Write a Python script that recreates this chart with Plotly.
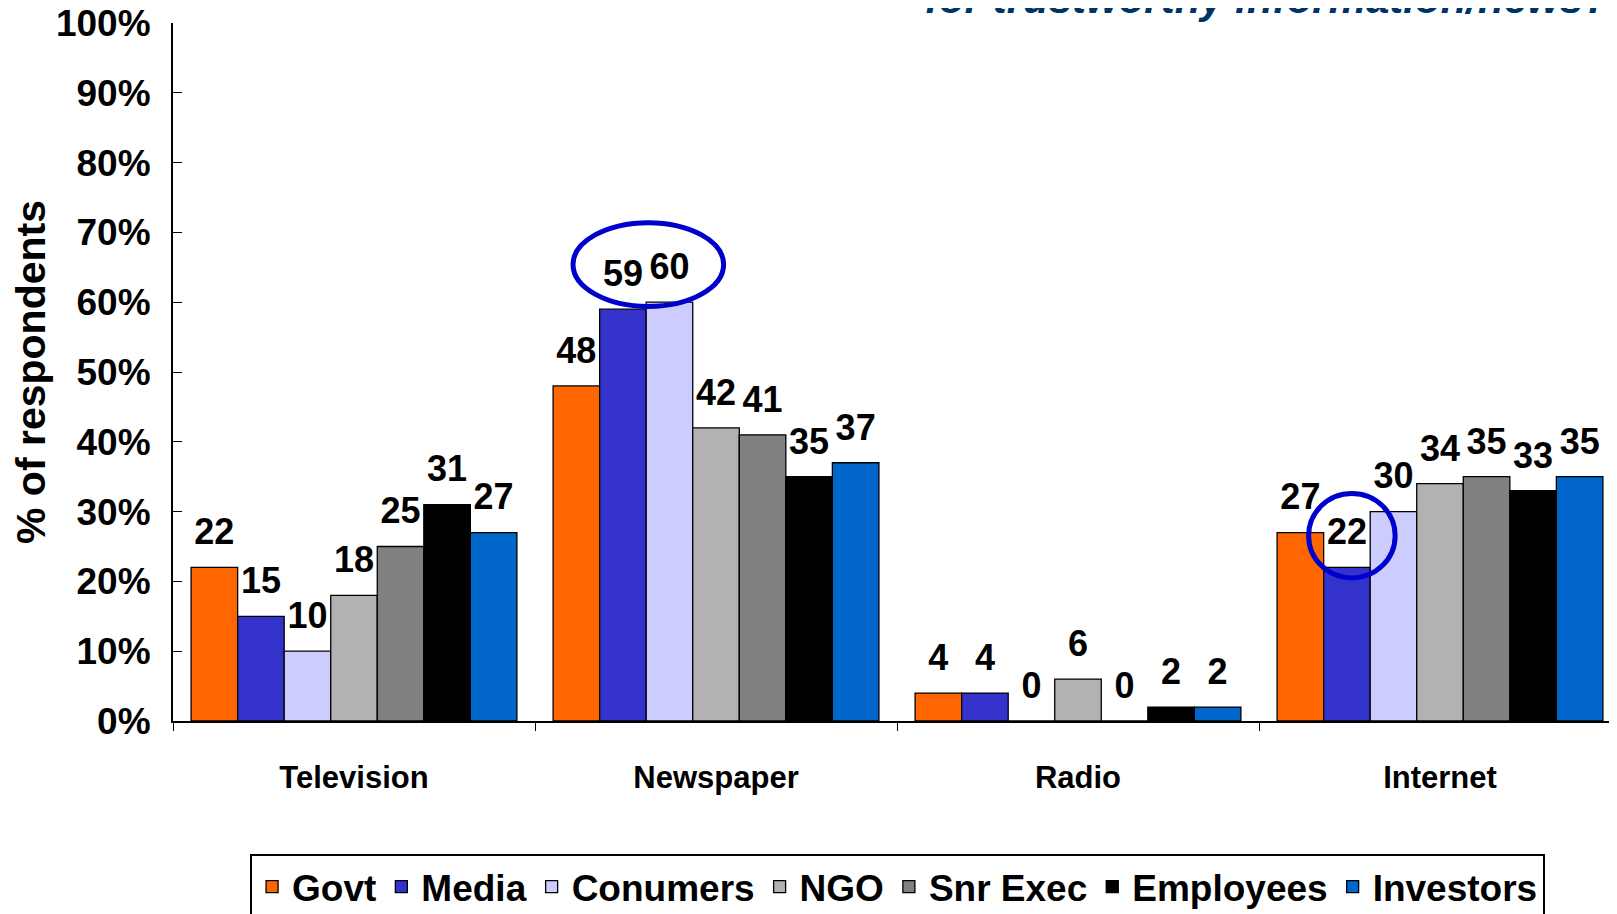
import plotly.graph_objects as go

# chart data
categories = ["Television", "Newspaper", "Radio", "Internet"]
series = ["Govt", "Media", "Conumers", "NGO", "Snr Exec", "Employees", "Investors"]
colors = ["#FF6600", "#3333CC", "#CCCCFF", "#B2B2B2", "#808080", "#000000", "#0066CC"]

govt = [22, 48, 4, 27]
media = [15, 59, 4, 22]
conumers = [10, 60, 0, 30]
ngo = [18, 42, 6, 34]
snr_exec = [25, 41, 0, 35]
employees = [31, 35, 2, 33]
investors = [27, 37, 2, 35]
values = [govt, media, conumers, ngo, snr_exec, employees, investors]

FONT = "Liberation Sans, Arial, sans-serif"

fig = go.Figure()

for name, col, vals in zip(series, colors, values):
    fig.add_trace(go.Bar(
        x=categories, y=vals, name=name,
        marker=dict(color=col, line=dict(color="black", width=1.3)),
        offsetgroup=name,
    ))

# value labels above the bars (scatter text grouped like the bars)
for name, vals in zip(series, values):
    fig.add_trace(go.Scatter(
        x=categories, y=vals, mode="markers+text",
        text=[str(v) for v in vals], textposition="top center",
        textfont=dict(family=FONT, size=36, color="black", weight="bold"),
        marker=dict(size=21, color="rgba(0,0,0,0)"),
        showlegend=False, hoverinfo="skip", offsetgroup=name,
    ))

# highlight ellipses
fig.add_shape(type="circle", xref="x", yref="y", x0=0.605, x1=1.021, y0=59.4, y1=71.4,
              line=dict(color="#0000CC", width=5))
fig.add_shape(type="circle", xref="x", yref="y", x0=2.637, x1=2.876, y0=20.5, y1=32.6,
              line=dict(color="#0000CC", width=5))

# title line (cut off at the top of the slide)
fig.add_annotation(
    text="<i>for trustworthy information/news?</i>", xref="paper", yref="paper",
    x=0.5165, y=1.0357, xanchor="left", yanchor="middle", showarrow=False,
    font=dict(family=FONT, size=42, color="#003366", weight="bold"),
)

fig.update_layout(
    width=1617, height=914,
    margin=dict(l=165, r=0, t=15, b=201),
    paper_bgcolor="white", plot_bgcolor="white",
    barmode="group", bargap=0.1, bargroupgap=0,
    scattermode="group", scattergap=0.1,
    xaxis=dict(
        range=[-0.5, 3.511], showline=True, linecolor="black", linewidth=2,
        ticks="outside", tickson="boundaries", ticklen=8, tickcolor="black",
        tickfont=dict(family=FONT, size=31, color="black", weight="bold"),
        ticklabelstandoff=28, showgrid=False, automargin=False,
    ),
    yaxis=dict(
        range=[0, 100], dtick=10, ticksuffix="%", showline=True, linecolor="black",
        linewidth=2, ticks="inside", ticklen=9, tickcolor="black", showgrid=False,
        tickfont=dict(family=FONT, size=37, color="black", weight="bold"),
        ticklabelstandoff=13, ticklabeloverflow="allow", zeroline=False,
        automargin=False,
        title=dict(text="% of respondents", standoff=5,
                   font=dict(family=FONT, size=41, color="black", weight="bold")),
    ),
    legend=dict(
        orientation="h", xref="container", yref="container",
        x=0.1497, y=0.0744, xanchor="left", yanchor="top",
        font=dict(family=FONT, size=37, color="black", weight="bold"),
        bordercolor="black", borderwidth=2, bgcolor="white",
        tracegroupgap=0, itemwidth=30,
    ),
    showlegend=True,
)

fig.write_html("out.html")
